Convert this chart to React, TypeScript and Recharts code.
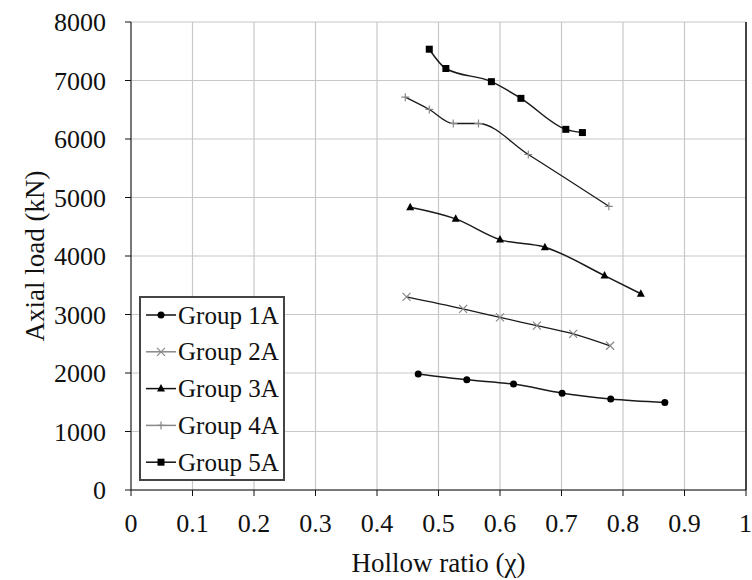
import { LineChart, Line, XAxis, YAxis, CartesianGrid, Legend, ReferenceLine, Label } from 'recharts';

const group1A = [
  { x: 0.467, y: 1985 },
  { x: 0.546, y: 1885 },
  { x: 0.622, y: 1810 },
  { x: 0.701, y: 1655 },
  { x: 0.78, y: 1555 },
  { x: 0.868, y: 1495 },
];
const group2A = [
  { x: 0.448, y: 3300 },
  { x: 0.54, y: 3095 },
  { x: 0.6, y: 2950 },
  { x: 0.66, y: 2810 },
  { x: 0.719, y: 2670 },
  { x: 0.779, y: 2465 },
];
const group3A = [
  { x: 0.454, y: 4835 },
  { x: 0.528, y: 4635 },
  { x: 0.6, y: 4280 },
  { x: 0.673, y: 4150 },
  { x: 0.77, y: 3665 },
  { x: 0.829, y: 3355 },
];
const group4A = [
  { x: 0.446, y: 6715 },
  { x: 0.485, y: 6505 },
  { x: 0.524, y: 6265 },
  { x: 0.565, y: 6265 },
  { x: 0.646, y: 5735 },
  { x: 0.777, y: 4850 },
];
const group5A = [
  { x: 0.485, y: 7535 },
  { x: 0.512, y: 7205 },
  { x: 0.586, y: 6980 },
  { x: 0.634, y: 6695 },
  { x: 0.707, y: 6165 },
  { x: 0.734, y: 6110 },
];

const xTicks = [0, 0.1, 0.2, 0.3, 0.4, 0.5, 0.6, 0.7, 0.8, 0.9, 1];
const yTicks = [0, 1000, 2000, 3000, 4000, 5000, 6000, 7000, 8000];

const FONT = '"Liberation Serif", "Times New Roman", serif';

type Shape = 'circle' | 'cross' | 'triangle' | 'plus' | 'square';

const series: { name: string; data: { x: number; y: number }[]; shape: Shape; width: number }[] = [
  { name: 'Group 1A', data: group1A, shape: 'circle', width: 1.5 },
  { name: 'Group 2A', data: group2A, shape: 'cross', width: 1.3 },
  { name: 'Group 3A', data: group3A, shape: 'triangle', width: 1.5 },
  { name: 'Group 4A', data: group4A, shape: 'plus', width: 1.3 },
  { name: 'Group 5A', data: group5A, shape: 'square', width: 1.5 },
];

function Marker({ shape, cx, cy }: { shape: Shape; cx: number; cy: number }) {
  if (shape === 'circle') return <circle cx={cx} cy={cy} r={3.5} fill="#000" />;
  if (shape === 'square') return <rect x={cx - 3.5} y={cy - 3.5} width={7} height={7} fill="#000" />;
  if (shape === 'triangle')
    return <polygon points={`${cx},${cy - 4.5} ${cx + 4},${cy + 3} ${cx - 4},${cy + 3}`} fill="#000" />;
  if (shape === 'cross')
    return (
      <path
        d={`M${cx - 4},${cy - 4}L${cx + 4},${cy + 4}M${cx - 4},${cy + 4}L${cx + 4},${cy - 4}`}
        stroke="#888"
        strokeWidth={1.2}
      />
    );
  return (
    <path d={`M${cx - 4},${cy}L${cx + 4},${cy}M${cx},${cy - 4}L${cx},${cy + 4}`} stroke="#888" strokeWidth={1.2} />
  );
}

function LegendBox() {
  return (
    <div style={{ width: 142, height: 181, border: '2px solid #444', background: '#fff', boxSizing: 'content-box' }}>
      <svg width={142} height={181}>
        {series.map((s, i) => {
          const y = 17 + i * 36.8;
          const thin = s.shape === 'cross' || s.shape === 'plus';
          return (
            <g key={s.name}>
              <line x1={5} x2={35} y1={y} y2={y} stroke={thin ? '#888' : '#111'} strokeWidth={1.5} />
              <Marker shape={s.shape} cx={20} cy={y} />
              <text x={37} y={y + 8.5} fontFamily={FONT} fontSize={25} fill="#111">
                {s.name}
              </text>
            </g>
          );
        })}
      </svg>
    </div>
  );
}

export default function App() {
  return (
    <div style={{ position: 'absolute', left: 0, top: 0, background: '#fff' }}>
      <LineChart width={752} height={580} margin={{ top: 22, right: 6, left: 0, bottom: 0 }}>
        <CartesianGrid stroke="#c8c8c8" strokeWidth={1.2} />
        <XAxis
          type="number"
          dataKey="x"
          domain={[0, 1]}
          ticks={xTicks}
          tickFormatter={(v: number) => String(v)}
          height={90}
          tickSize={6}
          tickMargin={18}
          stroke="#111"
          tick={{ fill: '#111', fontFamily: FONT, fontSize: 26 }}
          allowDataOverflow
        >
          <Label
            content={() => (
              <text x={438.5} y={572} textAnchor="middle" fontFamily={FONT} fontSize={27} fill="#111">
                Hollow ratio (χ)
              </text>
            )}
          />
        </XAxis>
        <YAxis
          type="number"
          domain={[0, 8000]}
          ticks={yTicks}
          width={131}
          tickSize={6}
          tickMargin={19}
          stroke="#111"
          tick={{ fill: '#111', fontFamily: FONT, fontSize: 26 }}
        >
          <Label
            content={() => (
              <text
                x={0}
                y={0}
                transform="translate(44,256) rotate(-90)"
                textAnchor="middle"
                fontFamily={FONT}
                fontSize={27}
                fill="#111"
              >
                Axial load (kN)
              </text>
            )}
          />
        </YAxis>
        <ReferenceLine x={1} stroke="#111" strokeWidth={1.5} />
        {series.map((s) => (
          <Line
            key={s.name}
            name={s.name}
            data={s.data}
            dataKey="y"
            type="monotone"
            stroke="#1a1a1a"
            strokeWidth={s.width}
            isAnimationActive={false}
            dot={(p: any) => <Marker key={`${s.name}-${p.index}`} shape={s.shape} cx={p.cx} cy={p.cy} />}
            activeDot={false}
          />
        ))}
        <Legend
          layout="horizontal"
          verticalAlign="middle"
          align="center"
          content={() => <LegendBox />}
          wrapperStyle={{ left: 139, top: 296, width: 146, height: 185 }}
        />
      </LineChart>
    </div>
  );
}
